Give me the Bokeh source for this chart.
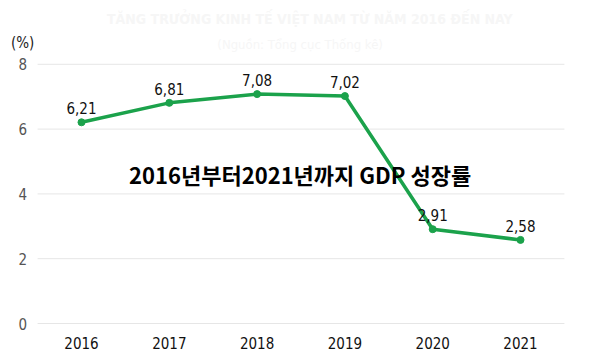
from bokeh.plotting import figure
from bokeh.models import Range1d
from bokeh.core.properties import value
from bokeh.embed import file_html
from bokeh.resources import INLINE

years = [2016, 2017, 2018, 2019, 2020, 2021]
growth = [6.21, 6.81, 7.08, 7.02, 2.91, 2.58]
labels = ["6,21", "6,81", "7,08", "7,02", "2,91", "2,58"]
y_ticks = [0, 2, 4, 6, 8]
y_tick_labels = ["0", "2", "4", "6", "8"]
x_tick_labels = ["2016", "2017", "2018", "2019", "2020", "2021"]
unit_label = "(%)"
title = "TĂNG TRƯỞNG KINH TẾ VIỆT NAM TỪ NĂM 2016 ĐẾN NAY"
subtitle = "(Nguồn: Tổng cục Thống kê)"
headline = "2016년부터2021년까지 GDP 성장률"

NUM_FONT = value("'DejaVu Sans Condensed', 'Liberation Sans Narrow', 'Roboto', sans-serif")
GREEN = "#1ba24b"

# frame covers the whole canvas; scales chosen so 2016..2021 and 0..8 land as in the reference
p = figure(width=600, height=352, output_backend="svg", toolbar_location=None,
           x_range=Range1d(2015.0775, 2021.911), y_range=Range1d(-0.895, 9.969),
           min_border=0)
p.outline_line_color = None
p.background_fill_color = "white"
p.border_fill_color = "white"
p.axis.visible = False
p.grid.visible = False

# grid lines
x0, x1 = 2015.5, 2021.5
p.segment(x0=[x0] * len(y_ticks), y0=y_ticks, x1=[x1] * len(y_ticks), y1=y_ticks,
          line_color="#e6e6e6", line_width=1)

# tick labels
p.text([2015.33] * len(y_ticks), y_ticks, text=y_tick_labels, text_font=NUM_FONT,
       text_font_size="15px", text_color="#555555", text_align="center", text_baseline="middle")
p.text(years, [-0.59] * len(years), text=x_tick_labels, text_font=NUM_FONT,
       text_font_size="15px", text_color="#111111", text_align="center", text_baseline="middle")
p.text([2015.33], [8.67], text=[unit_label], text_font=NUM_FONT,
       text_font_size="15px", text_color="#222222", text_align="center", text_baseline="middle")

# faint title / subtitle
p.text([2018.6], [9.41], text=[title], text_font=NUM_FONT, text_font_size="14px",
       text_font_style="bold", text_color="#f6f6f6", text_align="center", text_baseline="middle")
p.text([2018.49], [8.61], text=[subtitle], text_font=NUM_FONT, text_font_size="13px",
       text_color="#f6f6f6", text_align="center", text_baseline="middle")

# series
p.line(years, growth, line_color=GREEN, line_width=3.5)
p.scatter(years, growth, size=7, fill_color=GREEN, line_color=GREEN)
p.text(years, growth, text=labels, text_font=NUM_FONT, text_font_size="15px",
       text_color="#111111", text_align="center", text_baseline="bottom", y_offset=-8)

# headline overlay
p.text([2018.49], [4.6], text=[headline], text_font=value("Noto Sans CJK KR"),
       text_font_size="22px", text_font_style="bold", text_color="#000000",
       text_align="center", text_baseline="middle")

open("out.html", "w").write(file_html(p, INLINE))
